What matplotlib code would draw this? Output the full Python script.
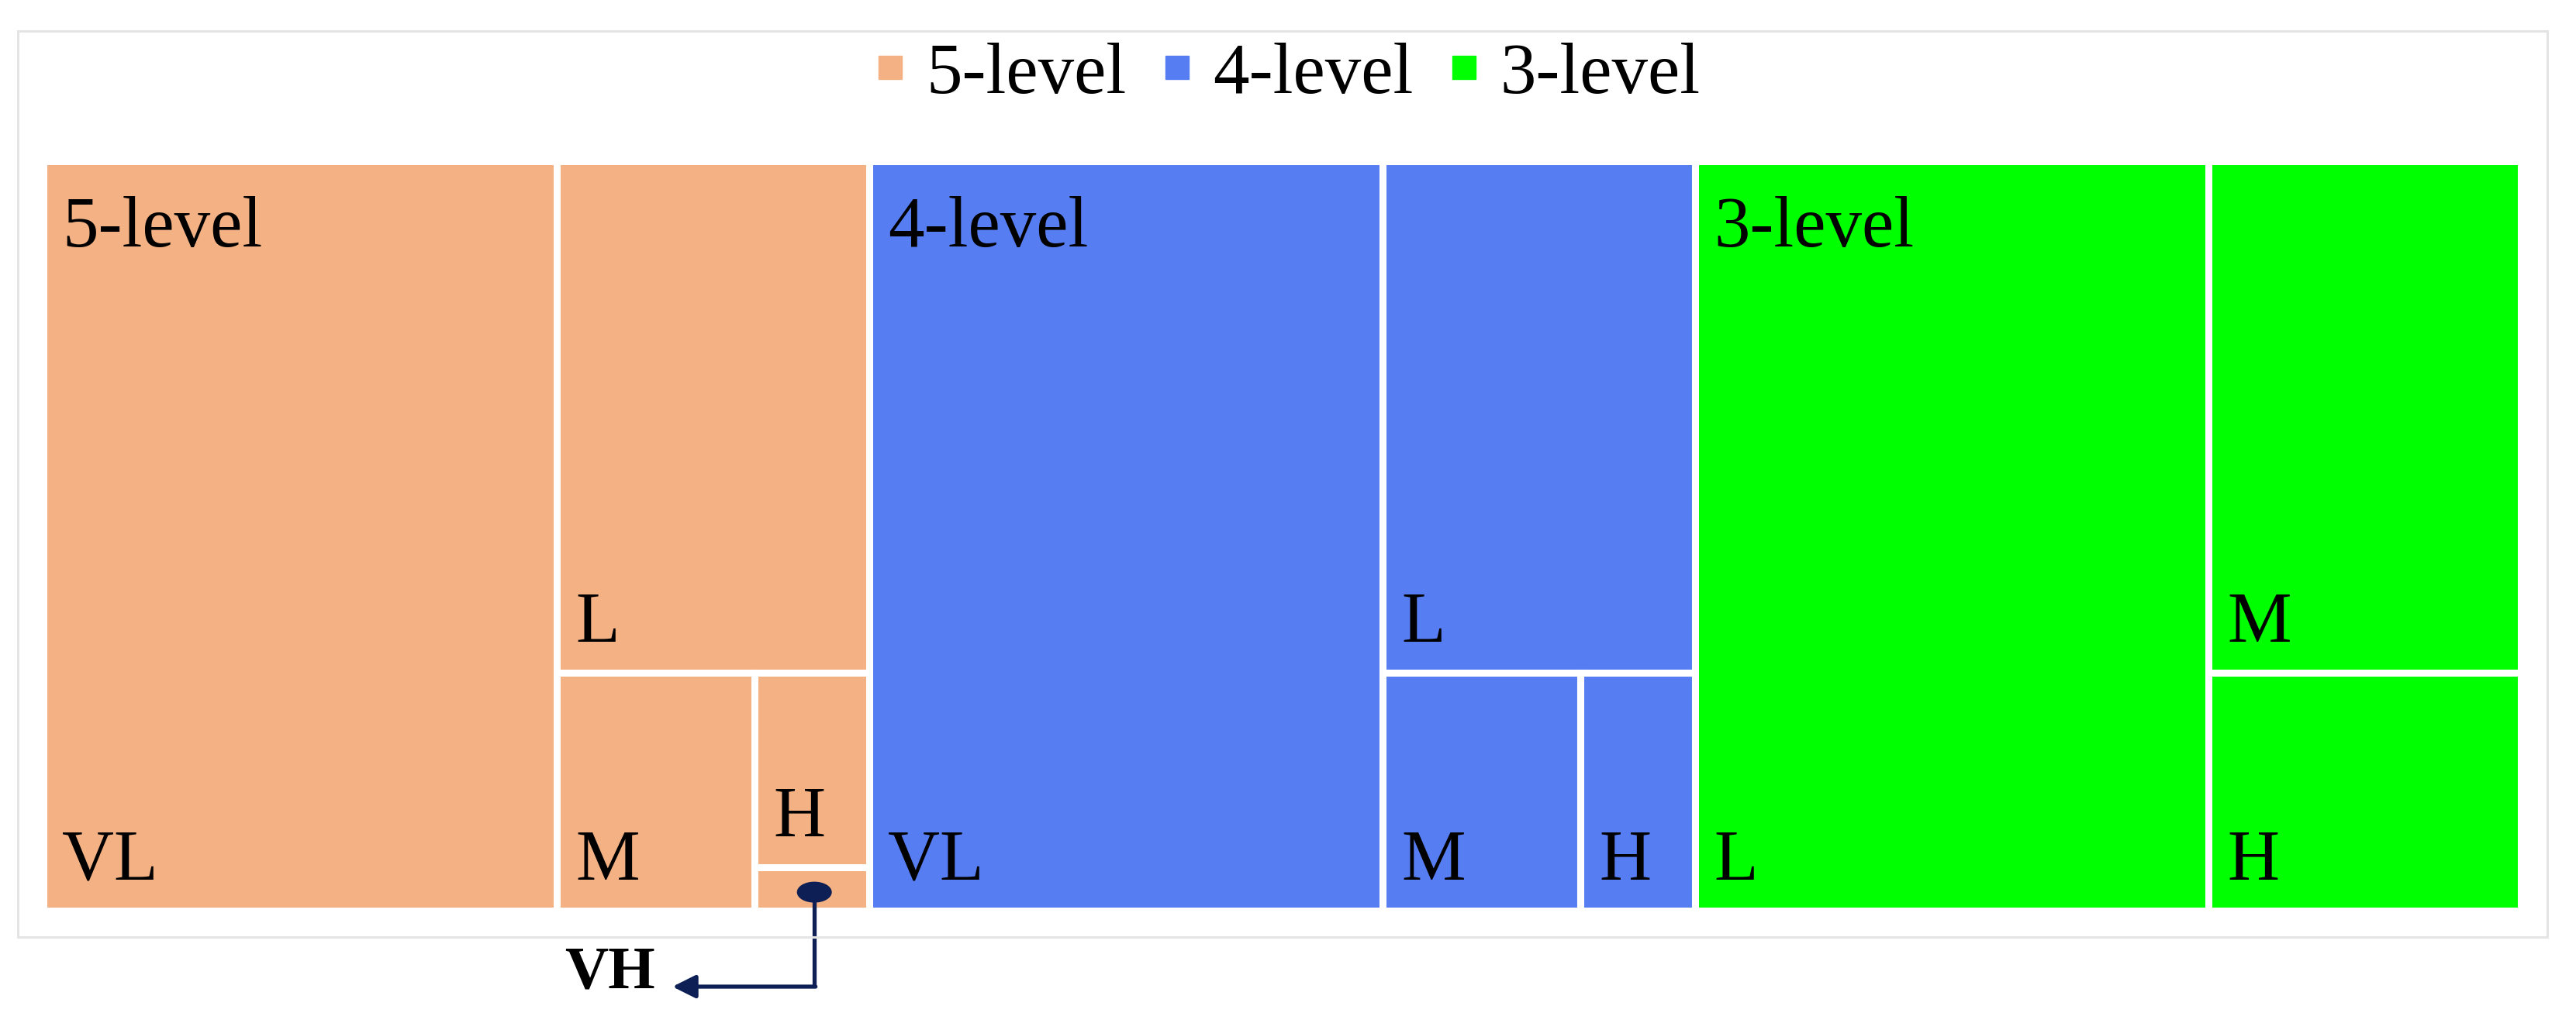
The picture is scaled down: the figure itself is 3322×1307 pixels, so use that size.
import matplotlib.pyplot as plt
from matplotlib.patches import Rectangle, Ellipse
from matplotlib.lines import Line2D

# data: share of each class within each quantisation scheme (%)
groups = ['5-level', '4-level', '3-level']
colors = ['#F4B183', '#577DF3', '#00FF00']
five_labels = ['VL', 'L', 'M', 'H', 'VH']
five_vals = [62.2, 25.8, 7.6, 3.6, 0.8]
four_labels = ['VL', 'L', 'M', 'H']
four_vals = [62.2, 25.8, 7.6, 4.4]
three_labels = ['L', 'M', 'H']
three_vals = [62.2, 25.8, 12.0]

leaf_labels = [five_labels, four_labels, three_labels]
leaf_vals = [five_vals, four_vals, three_vals]


def worst(row, side):
    s = sum(row)
    return max(max(side * side * r / (s * s), s * s / (side * side * r)) for r in row)


def squarify(values, x, y, w, h):
    # squarified treemap, y grows downward
    total = sum(values)
    areas = [v * w * h / total for v in values]
    rects = []
    while areas:
        side = min(w, h)
        row = [areas[0]]
        i = 1
        while i < len(areas) and worst(row + [areas[i]], side) <= worst(row, side):
            row.append(areas[i])
            i += 1
        areas = areas[i:]
        s = sum(row)
        if w >= h:
            cw = s / h
            yy = y
            for a in row:
                rects.append((x, yy, cw, a / cw))
                yy += a / cw
            x += cw
            w -= cw
        else:
            rh = s / w
            xx = x
            for a in row:
                rects.append((xx, y, a / rh, rh))
                xx += a / rh
            y += rh
            h -= rh
    return rects


W, H = 3195, 967  # layout size in pixels
fig = plt.figure(figsize=(33.22, 13.07), dpi=100)
ax = fig.add_axes([56 / 3322, 1 - 1175 / 1307, W / 3322, H / 1307])
ax.set_xlim(0, W)
ax.set_ylim(H, 0)
ax.axis('off')

font = 'Liberation Serif'
fs = 67

group_rects = squarify([sum(v) for v in leaf_vals], 0, 0, W, H)
vh_rect = None
for gi, (gx, gy, gw, gh) in enumerate(group_rects):
    rects = squarify(leaf_vals[gi], gx, gy, gw, gh)
    for lab, (x, y, w, h) in zip(leaf_labels[gi], rects):
        ax.add_patch(Rectangle((x, y), w, h, facecolor=colors[gi],
                               edgecolor='white', linewidth=6.5))
        if lab == 'VH':
            vh_rect = (x, y, w, h)
            continue
        ax.text(x + 24, y + h - 40, lab, fontsize=fs, family=font,
                ha='left', va='baseline')
    ax.text(gx + 24, gy + 45, groups[gi], fontsize=fs, family=font,
            ha='left', va='top')

# callout for the tiny VH tile
navy = '#0D1F55'
x, y, w, h = vh_rect
cx, cy = x + w / 2 + 3, y + h / 2 + 4
ax.add_patch(Ellipse((cx, cy), 45, 27, facecolor=navy, edgecolor='none',
                     clip_on=False, zorder=5))
ybot = y + h + 98
ax.plot([cx, cx], [cy, ybot], color=navy, lw=3.8, clip_on=False,
        solid_capstyle='butt')
ax.annotate('', xy=(cx - 183, ybot), xytext=(cx + 1.5, ybot),
            arrowprops=dict(arrowstyle='-|>,head_length=1.8,head_width=0.9',
                            color=navy, lw=3.8, shrinkA=0, shrinkB=0),
            annotation_clip=False)
ax.text(cx - 205, ybot + 2, 'VH', fontsize=56, family=font, fontweight='bold',
        ha='right', va='baseline')

# legend
handles = [Line2D([], [], marker='s', linestyle='none', markersize=21,
                  markerfacecolor=c, markeredgecolor=c) for c in colors]
fig.legend(handles, groups, loc='center', bbox_to_anchor=(0.5, 1 - 97 / 1307),
           ncol=3, frameon=False, prop={'family': font, 'size': fs},
           handlelength=0.4, handletextpad=0.3, columnspacing=0.5,
           borderpad=0, borderaxespad=0)

# light outer frame
fig.add_artist(Rectangle((23 / 3322, 1 - 1209 / 1307), (3285 - 23) / 3322,
                         (1209 - 40) / 1307, transform=fig.transFigure,
                         fill=False, edgecolor='#E4E4E4', linewidth=2.2))

fig.savefig('out.png', dpi=100)
